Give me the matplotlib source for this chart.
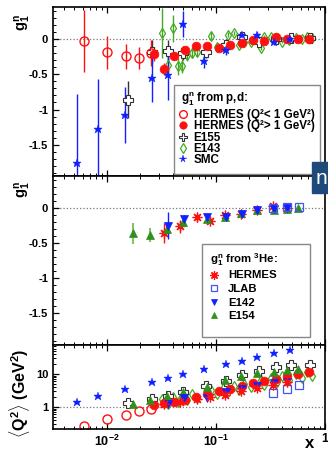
import matplotlib
matplotlib.use("Agg")
import matplotlib.pyplot as plt
from matplotlib.lines import Line2D
from matplotlib.patches import Rectangle
from matplotlib.ticker import MultipleLocator, NullFormatter

plt.rcParams['font.family'] = ['Liberation Sans', 'DejaVu Sans']
plt.rcParams['font.weight'] = 'bold'
plt.rcParams['mathtext.fontset'] = 'custom'
plt.rcParams['mathtext.rm'] = 'Liberation Sans:bold'
plt.rcParams['mathtext.it'] = 'Liberation Sans:bold'
plt.rcParams['mathtext.bf'] = 'Liberation Sans:bold'

# ---- g1n from p,d ----
herm_lo_x = [0.0061, 0.0101, 0.0148, 0.0197, 0.0251]
herm_lo_g = [-0.03, -0.19, -0.25, -0.27, -0.20]
herm_lo_e = [0.44, 0.23, 0.18, 0.16, 0.19]
herm_lo_q2 = [0.27, 0.43, 0.58, 0.74, 0.87]

herm_hi_x = [0.0272, 0.0336, 0.0412, 0.052, 0.0656, 0.083, 0.106, 0.135,
             0.173, 0.22, 0.277, 0.356, 0.45, 0.57, 0.71]
herm_hi_g = [-0.21, -0.425, -0.24, -0.16, -0.10, -0.10, -0.13, -0.085,
             -0.06, -0.015, -0.03, 0.02, 0.0, 0.0, 0.004]
herm_hi_e = [0.10, 0.08, 0.06, 0.05, 0.04, 0.03, 0.03, 0.02,
             0.02, 0.02, 0.02, 0.015, 0.015, 0.01, 0.01]
herm_hi_q2 = [1.17, 1.32, 1.42, 1.58, 1.95, 2.5, 2.97, 3.5,
              4.3, 5.2, 6.0, 7.1, 8.5, 10.3, 12.0]

e155_x = [0.0155, 0.0257, 0.036, 0.05, 0.081, 0.123, 0.174, 0.247, 0.355, 0.49, 0.73]
e155_g = [-0.86, -0.18, -0.17, -0.20, -0.19, -0.085, 0.03, -0.04, 0.0, 0.01, 0.01]
e155_e = [0.26, 0.16, 0.15, 0.10, 0.08, 0.05, 0.04, 0.03, 0.03, 0.02, 0.02]
e155_q2 = [1.32, 1.75, 2.1, 2.85, 4.3, 6.3, 9.2, 12.8, 17.0, 19.1, 18.5]

e143_x = [0.0318, 0.0361, 0.0401, 0.0448, 0.0491, 0.0545, 0.0607, 0.0674, 0.0893,
          0.103, 0.118, 0.129, 0.146, 0.162, 0.181, 0.211, 0.257, 0.275, 0.318,
          0.365, 0.405, 0.467, 0.538, 0.619, 0.679, 0.764]
e143_g = [0.08, -0.37, 0.15, -0.39, -0.39, -0.23, -0.20, -0.18, 0.04,
          -0.11, -0.11, 0.06, 0.08, -0.085, -0.04, -0.05, -0.13, 0.025, 0.03,
          0.0, -0.04, -0.015, 0.01, 0.0, 0.03, 0.01]
e143_e = [0.35, 0.12, 0.19, 0.12, 0.10, 0.08, 0.07, 0.06, 0.05,
          0.04, 0.04, 0.04, 0.03, 0.03, 0.03, 0.03, 0.03, 0.03, 0.03,
          0.02, 0.02, 0.02, 0.02, 0.02, 0.02, 0.02]
e143_q2 = [1.70, 1.27, 1.97, 1.46, 2.24, 1.66, 2.56, 1.90, 3.29,
           2.49, 3.94, 2.88, 4.51, 3.33, 5.16, 3.94, 6.47, 4.68, 7.40,
           5.60, 8.65, 6.56, 10.4, 7.85, 12.0, 9.0]

smc_x = [0.00527, 0.0083, 0.0146, 0.0257, 0.036, 0.0495, 0.078, 0.123,
         0.174, 0.239, 0.34, 0.48]
smc_g = [-1.76, -1.275, -1.08, -0.56, -0.51, 0.21, -0.32, -0.16,
         0.06, 0.06, -0.05, 0.0]
smc_e = [0.98, 0.70, 0.40, 0.33, 0.35, 0.18, 0.09, 0.07,
         0.04, 0.04, 0.04, 0.03]
smc_q2 = [1.38, 2.1, 3.5, 5.6, 7.6, 10.2, 14.5, 20.5, 25.8, 34.0, 43.0, 55.0]

# ---- g1n from 3He ----
he_x = [0.0336, 0.047, 0.0665, 0.088, 0.121, 0.17, 0.24, 0.335, 0.45]
he_g = [-0.357, -0.26, -0.13, -0.177, -0.096, -0.086, -0.026, 0.035, 0.0]
he_e = [0.14, 0.09, 0.06, 0.05, 0.04, 0.03, 0.02, 0.02, 0.02]
he_q2 = [1.2, 1.45, 1.7, 2.0, 2.4, 3.0, 3.8, 4.7, 5.6]

jlab_x = [0.336, 0.45, 0.58]
jlab_g = [0.0, 0.015, 0.02]
jlab_e = [0.01, 0.01, 0.01]
jlab_q2 = [2.7, 3.5, 4.8]

e142_x = [0.036, 0.051, 0.082, 0.124, 0.175, 0.24, 0.34, 0.45]
e142_g = [-0.25, -0.157, -0.13, -0.12, -0.08, -0.03, -0.01, 0.0]
e142_e = [0.19, 0.06, 0.03, 0.03, 0.03, 0.02, 0.02, 0.02]
e142_q2 = [1.26, 1.87, 1.9, 2.8, 3.5, 4.3, 5.3, 5.8]

e154_x = [0.0174, 0.0248, 0.0355, 0.05, 0.082, 0.12, 0.17, 0.24, 0.34, 0.45, 0.56]
e154_g = [-0.357, -0.38, -0.29, -0.19, -0.157, -0.12, -0.07, -0.025, -0.025, -0.015, 0.0]
e154_e = [0.15, 0.10, 0.08, 0.06, 0.04, 0.03, 0.03, 0.02, 0.02, 0.02, 0.02]
e154_q2 = [1.2, 1.65, 2.1, 2.9, 4.2, 6.5, 8.9, 10.7, 12.0, 13.5, 14.0]

pd_labels = ['HERMES (Q\u00b2< 1 GeV\u00b2)', 'HERMES (Q\u00b2> 1 GeV\u00b2)', 'E155', 'E143', 'SMC']
he_labels = ['HERMES', 'JLAB', 'E142', 'E154']

RED = '#ff1010'
BLUE = '#1020ff'
LGREEN = '#44aa22'
DGREEN = '#2f8f1f'

fig = plt.figure(figsize=(3.28, 4.51), dpi=100)
FW, FH = 328, 451


def fx(px):
    return px / FW


def fy(py):
    return 1 - py / FH


L, W = fx(53), 272 / FW
ax1 = fig.add_axes([L, fy(176), W, 169 / FH])
ax2 = fig.add_axes([L, fy(345), W, 169 / FH])
ax3 = fig.add_axes([L, fy(429.3), W, 84.3 / FH])

# style shared by the points
lo_st = dict(fmt='o', mfc='none', mec=RED, ecolor=RED, ms=6.5, mew=1.0, elinewidth=1.0)
hi_st = dict(fmt='o', mfc=RED, mec=RED, ecolor=RED, ms=6.3, mew=0.5, elinewidth=1.0)
e155_st = dict(fmt='P', mfc='white', mec='#333333', ecolor='#333333', ms=6.5, mew=0.8, elinewidth=1.0)
e143_st = dict(fmt='d', mfc='none', mec=LGREEN, ecolor=LGREEN, ms=5.5, mew=0.9, elinewidth=1.0)
smc_st = dict(fmt='*', mfc=BLUE, mec=BLUE, ecolor=BLUE, ms=6.3, mew=0.3, elinewidth=1.0)
he_st = dict(fmt='none', ecolor=RED, elinewidth=1.0)
jlab_st = dict(fmt='s', mfc='none', mec='#4455ee', ecolor='#4455ee', ms=5.3, mew=0.9, elinewidth=1.0)
e142_st = dict(fmt='v', mfc=BLUE, mec=BLUE, ecolor=BLUE, ms=5.3, mew=0.5, elinewidth=1.0)
e154_st = dict(fmt='^', mfc=DGREEN, mec=DGREEN, ecolor='#66bb44', ms=5.3, mew=0.5, elinewidth=1.2)
AST = dict(marker=(8, 2, 0), color=RED, ms=7, mew=0.9, ls='none')

# panel 1
ax1.errorbar(e143_x, e143_g, yerr=e143_e, **e143_st)
ax1.errorbar(e155_x, e155_g, yerr=e155_e, **e155_st)
ax1.errorbar(herm_lo_x, herm_lo_g, yerr=herm_lo_e, **lo_st)
ax1.errorbar(herm_hi_x, herm_hi_g, yerr=herm_hi_e, **hi_st)
ax1.errorbar(smc_x, smc_g, yerr=smc_e, **smc_st)

# panel 2
ax2.errorbar(e154_x, e154_g, yerr=e154_e, **e154_st)
ax2.errorbar(he_x, he_g, yerr=he_e, **he_st)
ax2.plot(he_x, he_g, **AST)
ax2.errorbar(e142_x, e142_g, yerr=e142_e, **e142_st)
ax2.errorbar(jlab_x, jlab_g, yerr=jlab_e, **jlab_st)

# panel 3: mean Q2 of every point
for st, xs, qs in [(e143_st, e143_x, e143_q2), (e155_st, e155_x, e155_q2),
                   (lo_st, herm_lo_x, herm_lo_q2), (hi_st, herm_hi_x, herm_hi_q2),
                   (smc_st, smc_x, smc_q2), (e154_st, e154_x, e154_q2),
                   (e142_st, e142_x, e142_q2), (jlab_st, jlab_x, jlab_q2)]:
    ax3.plot(xs, qs, ls='none', marker=st['fmt'], mfc=st['mfc'], mec=st['mec'],
             ms=st['ms'], mew=st['mew'])
ax3.plot(he_x, he_q2, **AST)

for ax in (ax1, ax2, ax3):
    ax.set_xscale('log')
    ax.set_xlim(0.0032, 1.0)
    ax.tick_params(which='both', direction='in', top=True, labelsize=8)
    ax.tick_params(which='major', length=4, width=0.9)
    ax.tick_params(which='minor', length=2, width=0.7)
    for s in ax.spines.values():
        s.set_linewidth(1.2)

for ax in (ax1, ax2):
    ax.axhline(0, color='#777777', ls=':', lw=0.9, zorder=0)
    ax.set_yticks([0, -0.5, -1, -1.5], labels=['0', '-0.5', '-1', '-1.5'])
    ax.yaxis.set_minor_locator(MultipleLocator(0.1))
    ax.tick_params(axis='x', labelbottom=False)
ax1.set_ylim(-1.94, 0.45)
ax2.set_ylim(-1.95, 0.46)

ax3.set_yscale('log')
ax3.set_ylim(0.21, 77)
ax3.axhline(1, color='#777777', ls=':', lw=0.9, zorder=0)
ax3.set_yticks([1, 10], labels=['1', '10'])
ax3.yaxis.set_minor_formatter(NullFormatter())
ax3.set_xticks([0.01, 0.1, 1], labels=[r'$10^{-2}$', r'$10^{-1}$', '1'])
ax3.xaxis.set_minor_formatter(NullFormatter())
ax3.tick_params(axis='x', labelsize=9, pad=3)


# legends drawn by hand so the rows sit evenly like the original
def draw_legend(box, title, title_pos, styles, labels, mx, tx, rows, fs):
    x0, y0, x1, y1 = box
    fig.add_artist(Rectangle((fx(x0), fy(y1)), fx(x1) - fx(x0), fy(y0) - fy(y1),
                             transform=fig.transFigure, facecolor='white',
                             edgecolor='#888888', lw=1.0, zorder=4))
    fig.text(fx(title_pos[0]), fy(title_pos[1]), title, fontsize=fs,
             ha='left', va='center_baseline', zorder=5)
    for st, lab, ry in zip(styles, labels, rows):
        if st is AST:
            mk = Line2D([fx(mx)], [fy(ry)], transform=fig.transFigure, zorder=5,
                        **dict(AST, ms=6))
        else:
            mk = Line2D([fx(mx)], [fy(ry)], transform=fig.transFigure, zorder=5, ls='none',
                        marker=st['fmt'], mfc=st['mfc'], mec=st['mec'],
                        ms=st['ms'] * 0.85, mew=st['mew'])
        fig.add_artist(mk)
        fig.text(fx(tx), fy(ry), lab, fontsize=fs, ha='left', va='center_baseline', zorder=5)


draw_legend((174, 85, 320, 174), r'g$_1^n$ from p,d:', (181, 97),
            [lo_st, hi_st, e155_st, e143_st, smc_st], pd_labels,
            182.5, 193.5, [113.5, 125, 136.5, 147.5, 158.5], 8.4)
draw_legend((201.5, 244, 310, 336.5), r'g$_1^n$ from $^3$He:', (210, 257.5),
            [AST, jlab_st, e142_st, e154_st], he_labels,
            214, 228, [274.5, 288, 301.5, 315], 8.2)

# axis titles
fig.text(fx(23), fy(23), r'g$_1^n$', rotation=90, ha='center', va='center', fontsize=10.5)
fig.text(fx(23), fy(190), r'g$_1^n$', rotation=90, ha='center', va='center', fontsize=10.5)
fig.text(fx(20), fy(393), r'$\langle$Q$^2\rangle$ (GeV$^2$)', rotation=90,
         ha='center', va='center', fontsize=11.5)
fig.text(fx(310), fy(444), 'x', ha='center', va='center', fontsize=12)

# overlay box at the right edge
fig.add_artist(Rectangle((fx(312), fy(193)), 16 / FW, 31 / FH,
                         transform=fig.transFigure, color='#1d4a7a', zorder=5))
fig.text(fx(316), fy(178), 'n', color='white', fontsize=15, ha='left', va='center',
         fontweight='normal', zorder=6)

fig.savefig('out.png', dpi=100)
